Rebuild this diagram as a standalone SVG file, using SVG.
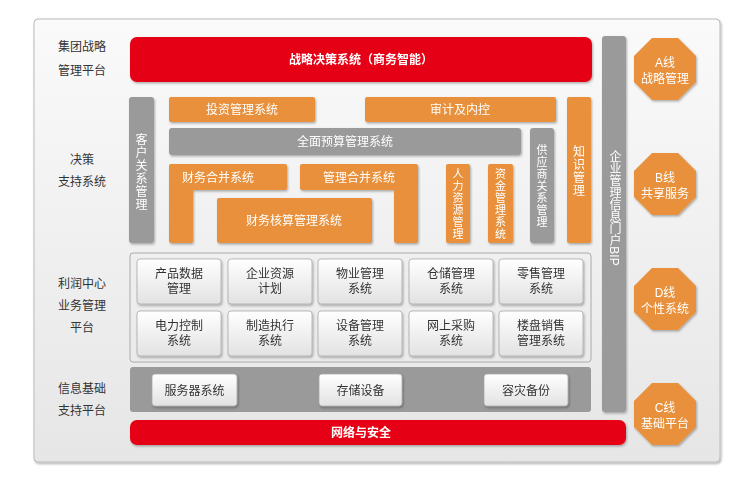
<svg xmlns="http://www.w3.org/2000/svg" width="745" height="483" viewBox="0 0 745 483">
<defs>
<linearGradient id="bg" x1="0" y1="0" x2="0" y2="1"><stop offset="0" stop-color="#fafafa"/><stop offset="1" stop-color="#e6e6e6"/></linearGradient>
<linearGradient id="cell" x1="0" y1="0" x2="0" y2="1"><stop offset="0" stop-color="#ffffff"/><stop offset="1" stop-color="#e2e2e2"/></linearGradient>
<filter id="sh" x="-10%" y="-10%" width="130%" height="140%"><feDropShadow dx="1" dy="1.5" stdDeviation="1.2" flood-color="#000" flood-opacity="0.3"/></filter>
</defs>
<style>
text{font-family:"Liberation Sans","Noto Sans CJK SC",sans-serif;font-size:12px;text-anchor:middle}
.lab{fill:#333}
.w{fill:#fff}
.b{fill:#333}
.o{fill:#E8903A}
.g{fill:#9a9a9a}
.r{fill:#E60012}
.c{fill:url(#cell);stroke:#aaa;stroke-width:0.8}
.v{font-size:11px}
</style>
<rect x="34" y="19" width="686" height="443" rx="4" fill="url(#bg)" stroke="#bbb" filter="url(#sh)"/>
<g id="labels" class="lab">
<text x="82" y="51" class="lab">集团战略</text><text x="82" y="75" class="lab">管理平台</text>
<text x="82" y="164" class="lab">决策</text><text x="82" y="186" class="lab">支持系统</text>
<text x="82" y="288" class="lab">利润中心</text><text x="82" y="310" class="lab">业务管理</text><text x="82" y="332" class="lab">平台</text>
<text x="82" y="393" class="lab">信息基础</text><text x="82" y="415" class="lab">支持平台</text>
</g>
<g id="top" filter="url(#sh)"><rect x="130" y="37" width="462" height="45" rx="7" class="r"/><text x="361" y="64" class="w" font-weight="bold">战略决策系统（商务智能）</text></g>
<g id="decision" filter="url(#sh)">
<rect x="129" y="97" width="25" height="146" rx="3" class="g"/><text class="w" font-size="12"><tspan x="141.5" y="144">客</tspan><tspan x="141.5" y="157">户</tspan><tspan x="141.5" y="170">关</tspan><tspan x="141.5" y="183">系</tspan><tspan x="141.5" y="196">管</tspan><tspan x="141.5" y="209">理</tspan></text>
<rect x="169" y="97" width="146" height="25" rx="2" class="o"/><text x="242" y="114" class="w" font-size="13">投资管理系统</text>
<rect x="365" y="97" width="191" height="25" rx="2" class="o"/><text x="460" y="114" class="w" font-size="13">审计及内控</text>
<rect x="567" y="97" width="24" height="146" rx="2" class="o"/><text class="w" font-size="12"><tspan x="579" y="156">知</tspan><tspan x="579" y="169">识</tspan><tspan x="579" y="182">管</tspan><tspan x="579" y="195">理</tspan></text>
<rect x="169" y="128" width="352" height="27" rx="3" class="g"/><text x="345" y="146" class="w" font-size="13">全面预算管理系统</text>
<rect x="530" y="128" width="24" height="115" rx="3" class="g"/><text class="w v"><tspan x="542" y="154">供</tspan><tspan x="542" y="166">应</tspan><tspan x="542" y="178">商</tspan><tspan x="542" y="190">关</tspan><tspan x="542" y="202">系</tspan><tspan x="542" y="214">管</tspan><tspan x="542" y="226">理</tspan></text>
<path d="M171 164h114a2 2 0 0 1 2 2v22a2 2 0 0 1-2 2H193v51a2 2 0 0 1-2 2h-20a2 2 0 0 1-2-2V166a2 2 0 0 1 2-2z" class="o"/><text x="218" y="182" class="w" font-size="13">财务合并系统</text>
<path d="M302 164h114a2 2 0 0 1 2 2v75a2 2 0 0 1-2 2h-20a2 2 0 0 1-2-2V190h-92a2 2 0 0 1-2-2v-22a2 2 0 0 1 2-2z" class="o"/><text x="359" y="182" class="w" font-size="13">管理合并系统</text>
<rect x="217" y="198" width="155" height="45" rx="2" class="o"/><text x="294" y="225" class="w" font-size="13">财务核算管理系统</text>
<rect x="446" y="164" width="24" height="79" rx="2" class="o"/><text class="w v"><tspan x="458" y="178">人</tspan><tspan x="458" y="190">力</tspan><tspan x="458" y="202">资</tspan><tspan x="458" y="214">源</tspan><tspan x="458" y="226">管</tspan><tspan x="458" y="238">理</tspan></text>
<rect x="488" y="164" width="25" height="79" rx="2" class="o"/><text class="w v"><tspan x="500.5" y="178">资</tspan><tspan x="500.5" y="190">金</tspan><tspan x="500.5" y="202">管</tspan><tspan x="500.5" y="214">理</tspan><tspan x="500.5" y="226">系</tspan><tspan x="500.5" y="238">统</tspan></text>
</g>
<g id="business">
<rect x="130" y="253" width="461" height="109" rx="3" fill="none" stroke="#aaa"/>
<g filter="url(#sh)">
<rect x="137" y="259" width="84" height="45" rx="3" class="c"/><text class="b"><tspan x="179" y="278">产品数据</tspan><tspan x="179" y="293">管理</tspan></text>
<rect x="228" y="259" width="84" height="45" rx="3" class="c"/><text class="b"><tspan x="270" y="278">企业资源</tspan><tspan x="270" y="293">计划</tspan></text>
<rect x="318" y="259" width="84" height="45" rx="3" class="c"/><text class="b"><tspan x="360" y="278">物业管理</tspan><tspan x="360" y="293">系统</tspan></text>
<rect x="409" y="259" width="84" height="45" rx="3" class="c"/><text class="b"><tspan x="451" y="278">仓储管理</tspan><tspan x="451" y="293">系统</tspan></text>
<rect x="499" y="259" width="84" height="45" rx="3" class="c"/><text class="b"><tspan x="541" y="278">零售管理</tspan><tspan x="541" y="293">系统</tspan></text>
<rect x="137" y="311" width="84" height="45" rx="3" class="c"/><text class="b"><tspan x="179" y="330">电力控制</tspan><tspan x="179" y="345">系统</tspan></text>
<rect x="228" y="311" width="84" height="45" rx="3" class="c"/><text class="b"><tspan x="270" y="330">制造执行</tspan><tspan x="270" y="345">系统</tspan></text>
<rect x="318" y="311" width="84" height="45" rx="3" class="c"/><text class="b"><tspan x="360" y="330">设备管理</tspan><tspan x="360" y="345">系统</tspan></text>
<rect x="409" y="311" width="84" height="45" rx="3" class="c"/><text class="b"><tspan x="451" y="330">网上采购</tspan><tspan x="451" y="345">系统</tspan></text>
<rect x="499" y="311" width="84" height="45" rx="3" class="c"/><text class="b"><tspan x="541" y="330">楼盘销售</tspan><tspan x="541" y="345">管理系统</tspan></text>
</g></g>
<g id="infra">
<rect x="130" y="367" width="461" height="45" rx="3" class="g"/>
<g filter="url(#sh)">
<rect x="152" y="374" width="85" height="32" rx="3" class="c"/><text x="194.5" y="395" class="b">服务器系统</text>
<rect x="319" y="374" width="83" height="32" rx="3" class="c"/><text x="360.5" y="395" class="b">存储设备</text>
<rect x="484" y="374" width="84" height="32" rx="3" class="c"/><text x="526" y="395" class="b">容灾备份</text>
</g></g>
<g id="network" filter="url(#sh)"><rect x="130" y="420" width="496" height="25" rx="7" class="r"/><text x="361" y="437" class="w" font-weight="bold">网络与安全</text></g>
<g id="portal" filter="url(#sh)"><rect x="602" y="36" width="24" height="376" rx="3" class="g"/>
<text x="614" y="208" class="w" style="writing-mode:vertical-rl" font-size="12.5">企业管理信息门户BIP</text></g>
<g id="lines" class="w" filter="url(#sh)">
<polygon points="652,38 678,38 696,56 696,82 678,100 652,100 634,82 634,56" class="o"/><text x="665" y="67" class="w">A线</text><text x="665" y="83" class="w">战略管理</text>
<polygon points="652,153 678,153 696,171 696,197 678,215 652,215 634,197 634,171" class="o"/><text x="665" y="182" class="w">B线</text><text x="665" y="198" class="w">共享服务</text>
<polygon points="652,268 678,268 696,286 696,312 678,330 652,330 634,312 634,286" class="o"/><text x="665" y="297" class="w">D线</text><text x="665" y="313" class="w">个性系统</text>
<polygon points="652,383 678,383 696,401 696,427 678,445 652,445 634,427 634,401" class="o"/><text x="665" y="412" class="w">C线</text><text x="665" y="428" class="w">基础平台</text>
</g>
<g id="connectors"/>
</svg>
